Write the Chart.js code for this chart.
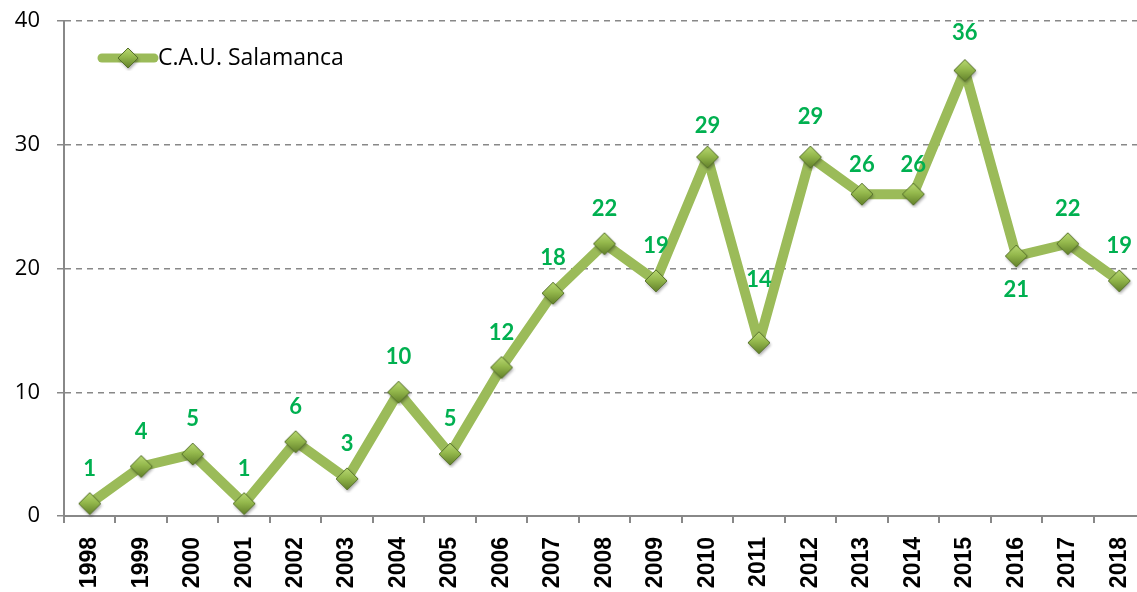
<!DOCTYPE html>
<html>
<head>
<meta charset="utf-8">
<script src="https://cdn.jsdelivr.net/npm/chart.js@4.4.0/dist/chart.umd.min.js"></script>
<style>
  html, body { margin: 0; padding: 0; background: #fff; overflow: hidden; }
  #wrap { width: 1166px; height: 592px; }
</style>
</head>
<body>
<div id="wrap"><canvas id="chart_cau"></canvas></div>
<script>
const years = ["1998", "1999", "2000", "2001", "2002", "2003", "2004", "2005", "2006", "2007",
  "2008", "2009", "2010", "2011", "2012", "2013", "2014", "2015", "2016", "2017", "2018"];
const values = [1, 4, 5, 1, 6, 3, 10, 5, 12, 18, 22, 19, 29, 14, 29, 26, 26, 36, 21, 22, 19];
const yTicks = [0, 10, 20, 30, 40];
const seriesName = "C.A.U. Salamanca";

const lineGreen = "#9bbb59";
const labelGreen = "#00b050";

// label distance from the point (negative = above); a few are nudged
const labelGap = -35;
const labelGapByYear = { "2010": -31, "2011": -63, "2012": -40, "2013": -29, "2014": -29, "2015": -38, "2016": 34 };

// shaded diamond marker, used as the point image
function makeDiamond(r) {
  const size = r * 2 + 6;
  const c = document.createElement("canvas");
  c.width = size;
  c.height = size;
  const g = c.getContext("2d");
  const m = size / 2;
  g.shadowColor = "rgba(0,0,0,0.35)";
  g.shadowBlur = 3;
  g.shadowOffsetX = 1;
  g.shadowOffsetY = 2;
  const grad = g.createLinearGradient(0, m - r, 0, m + r);
  grad.addColorStop(0, "#b8d872");
  grad.addColorStop(0.45, "#94b84c");
  grad.addColorStop(1, "#62802a");
  g.fillStyle = grad;
  g.beginPath();
  g.moveTo(m, m - r);
  g.lineTo(m + r, m);
  g.lineTo(m, m + r);
  g.lineTo(m - r, m);
  g.closePath();
  g.fill();
  g.shadowColor = "transparent";
  g.strokeStyle = "#55702a";
  g.lineWidth = 1;
  g.stroke();
  return c;
}
const diamond = makeDiamond(11);
const legendDiamond = makeDiamond(10);

// value labels next to each point
const valueLabels = {
  id: "valueLabels",
  afterDatasetsDraw(chart) {
    const ctx = chart.ctx;
    const meta = chart.getDatasetMeta(0);
    ctx.save();
    ctx.font = "bold 22px Lato";
    ctx.fillStyle = labelGreen;
    ctx.textAlign = "center";
    ctx.textBaseline = "middle";
    meta.data.forEach(function (pt, i) {
      const gap = labelGapByYear[years[i]] !== undefined ? labelGapByYear[years[i]] : labelGap;
      ctx.fillText(String(values[i]), pt.x, pt.y + gap);
    });
    ctx.restore();
  },
};

// legend drawn inside the plot, top left
const insideLegend = {
  id: "insideLegend",
  afterDraw(chart) {
    const ctx = chart.ctx;
    const y = 58;
    ctx.save();
    ctx.strokeStyle = lineGreen;
    ctx.lineWidth = 9;
    ctx.lineCap = "round";
    ctx.beginPath();
    ctx.moveTo(102, y);
    ctx.lineTo(154, y);
    ctx.stroke();
    ctx.drawImage(legendDiamond, 128 - legendDiamond.width / 2, y - legendDiamond.height / 2);
    ctx.font = "23px 'Open Sans'";
    ctx.fillStyle = "#000";
    ctx.textAlign = "left";
    ctx.textBaseline = "middle";
    ctx.fillText(seriesName, 158, y);
    ctx.restore();
  },
};

function getlinechart() {
  new Chart(document.getElementById("chart_cau"), {
    type: "line",
    data: {
      labels: years,
      datasets: [
        {
          label: seriesName,
          data: values,
          borderColor: lineGreen,
          borderWidth: 10,
          borderJoinStyle: "bevel",
          fill: false,
          tension: 0,
          clip: false,
          pointStyle: diamond,
          pointRadius: 11,
          pointHoverRadius: 11,
          pointHitRadius: 0,
        },
      ],
    },
    options: {
      responsive: true,
      maintainAspectRatio: false,
      animation: false,
      layout: { padding: { top: 20, right: 0, left: 0, bottom: 0 } },
      plugins: {
        legend: { display: false },
        tooltip: { enabled: false },
      },
      scales: {
        x: {
          offset: true,
          afterFit(scale) {
            scale.height = 76;
            scale.paddingLeft = 0;
            scale.paddingRight = 0;
          },
          border: { display: true, color: "#888", width: 2 },
          grid: {
            offset: true,
            drawOnChartArea: false,
            drawTicks: true,
            tickLength: 7,
            color: "#888",
            lineWidth: 2,
          },
          ticks: {
            color: "#000",
            minRotation: 90,
            maxRotation: 90,
            padding: 14,
            font: { family: "Liberation Sans", size: 23, weight: "bold" },
          },
        },
        y: {
          min: 0,
          max: 40,
          afterFit(scale) {
            scale.width = 64;
            scale.paddingTop = 0;
            scale.paddingBottom = 0;
          },
          afterBuildTicks(scale) {
            scale.ticks = yTicks.map(function (v) { return { value: v }; });
          },
          border: { display: true, color: "#888", width: 2, dash: [6, 5] },
          grid: {
            color: "#888",
            lineWidth: 1.5,
            tickBorderDash: [],
            tickLength: 7,
          },
          ticks: {
            color: "#000",
            padding: 17,
            font: { family: "Open Sans", size: 22 },
          },
        },
      },
    },
    plugins: [valueLabels, insideLegend],
  });
}

getlinechart();
</script>
</body>
</html>
